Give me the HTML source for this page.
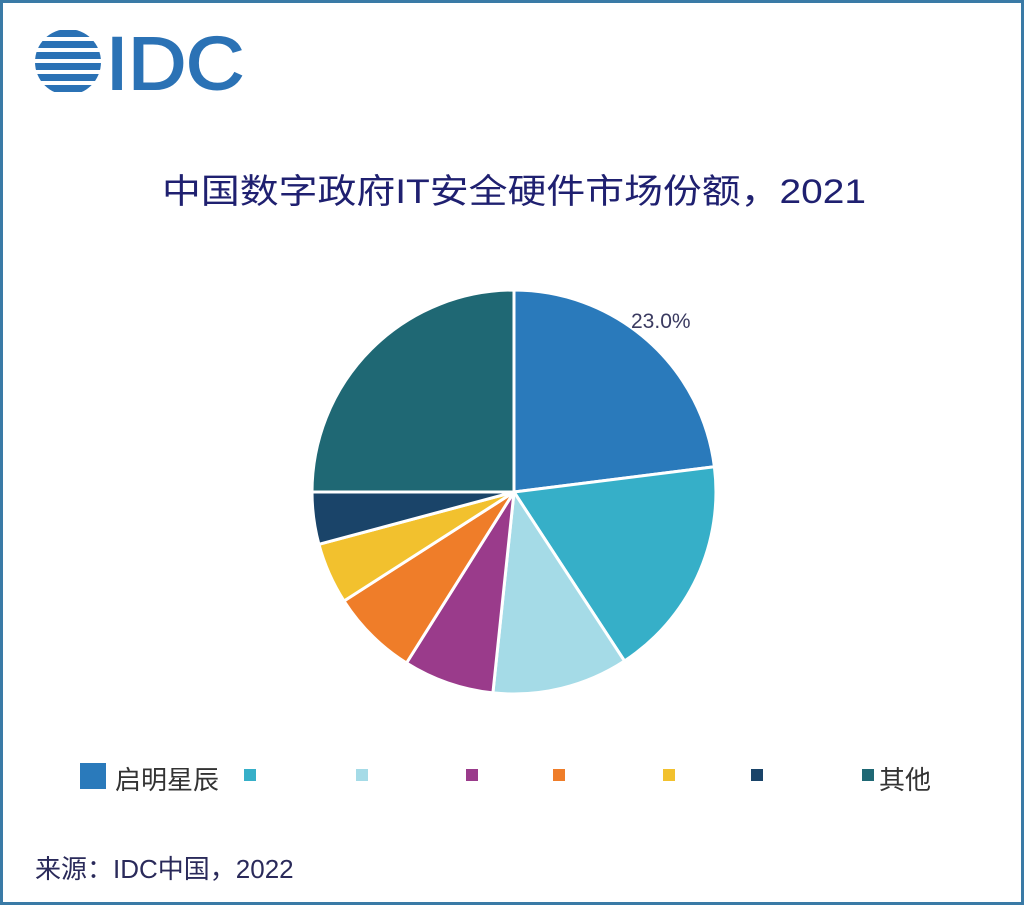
<!DOCTYPE html>
<html><head><meta charset="utf-8"><style>
body{margin:0;width:1024px;height:905px;background:#fff;position:relative;overflow:hidden;font-family:"Liberation Sans","Noto Sans CJK SC",sans-serif}
.frame{position:absolute;left:0;top:0;width:1018px;height:899px;border:3px solid #3a7aa6}
.t{position:absolute;white-space:nowrap}
.sq{position:absolute;width:12px;height:12px}
</style></head><body>
<div class="frame"></div>
<svg style="position:absolute;left:0;top:0" width="1024" height="905">
<defs><clipPath id="c"><circle cx="68" cy="62" r="33"/></clipPath></defs>
<g clip-path="url(#c)" fill="#2b72b5">
<rect x="30" y="30" width="80" height="7"/><rect x="30" y="41" width="80" height="7"/><rect x="30" y="52" width="80" height="7"/><rect x="30" y="63" width="80" height="7"/><rect x="30" y="74" width="80" height="7"/><rect x="30" y="85" width="80" height="7"/>
</g>
<text x="106" y="89" font-size="74" font-family="Liberation Sans" fill="#2b72b5" stroke="#2b72b5" stroke-width="2" textLength="138" lengthAdjust="spacingAndGlyphs">IDC</text>
<text x="162" y="203" font-size="34" font-family="Liberation Sans, Noto Sans CJK SC, sans-serif" fill="#1f2070" textLength="704" lengthAdjust="spacingAndGlyphs">中国数字政府IT安全硬件市场份额，2021</text>
<g stroke="#fff" stroke-width="3" stroke-linejoin="round">
<path d="M514,492 L514,290 A202,202 0 0 1 714.4,466.8 Z" fill="#2a7abb"/>
<path d="M514,492 L714.4,466.8 A202,202 0 0 1 624.5,661 Z" fill="#36afc8"/>
<path d="M514,492 L624.5,661 A202,202 0 0 1 492.9,692.9 Z" fill="#a5dbe7"/>
<path d="M514,492 L492.9,692.9 A202,202 0 0 1 406.5,663 Z" fill="#9a3b8b"/>
<path d="M514,492 L406.5,663 A202,202 0 0 1 344,601 Z" fill="#ef7d29"/>
<path d="M514,492 L344,601 A202,202 0 0 1 318.9,544.3 Z" fill="#f2c12e"/>
<path d="M514,492 L318.9,544.3 A202,202 0 0 1 312,492 Z" fill="#1a4469"/>
<path d="M514,492 L312,492 A202,202 0 0 1 514,290 Z" fill="#1f6874"/>
</g>
</svg>
<div class="t" style="left:631px;top:310px;font-size:21px;color:#3a3a60">23.0%</div>
<div class="sq" style="left:80px;top:763px;width:26px;height:26px;background:#2a7abb"></div>
<div class="t" style="left:115px;top:760px;font-size:26px;color:#333">启明星辰</div>
<div class="sq" style="left:244px;top:769px;background:#36afc8"></div>
<div class="sq" style="left:356px;top:769px;background:#a5dbe7"></div>
<div class="sq" style="left:466px;top:769px;background:#9a3b8b"></div>
<div class="sq" style="left:553px;top:769px;background:#ef7d29"></div>
<div class="sq" style="left:663px;top:769px;background:#f2c12e"></div>
<div class="sq" style="left:751px;top:769px;background:#1a4469"></div>
<div class="sq" style="left:862px;top:769px;background:#1f6874"></div>
<div class="t" style="left:879px;top:760px;font-size:26px;color:#333">其他</div>
<div class="t" style="left:35px;top:849px;font-size:26px;color:#2a2a5a">来源：IDC中国，2022</div>
</body></html>
